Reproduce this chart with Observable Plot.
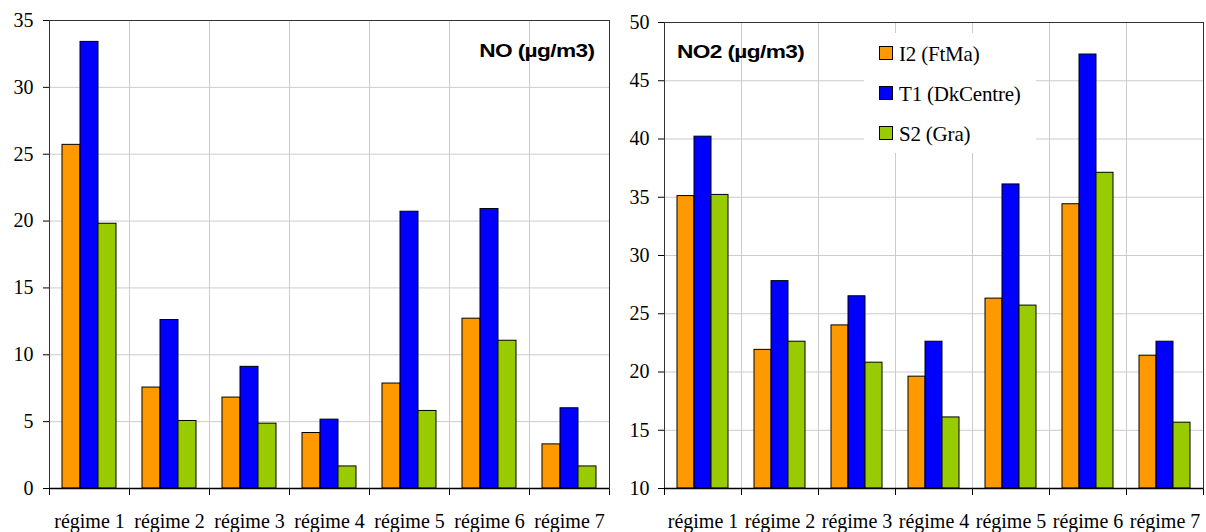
<!DOCTYPE html>
<html>
<head>
<meta charset="utf-8">
<script src="https://cdn.jsdelivr.net/npm/d3@7"></script>
<script src="https://cdn.jsdelivr.net/npm/@observablehq/plot@0.6"></script>
<style>
  body { margin: 0; background: white; }
  #wrap { position: relative; width: 1206px; height: 532px; overflow: hidden; background: white; }
  .chart { position: absolute; top: 0; }
  .chart text { font-family: "Liberation Serif", "Times New Roman", serif; }
  .title { position: absolute; font-family: "Liberation Sans", Arial, sans-serif; font-weight: bold; font-size: 18px; line-height: 18px; letter-spacing: -0.5px; white-space: nowrap; color: #000; }
  #legend { position: absolute; left: 864px; top: 33px; width: 172px; height: 120px; background: white; }
  .item { display: flex; align-items: center; height: 40px; font-family: "Liberation Serif", "Times New Roman", serif; font-size: 21px; }
  .sw { width: 12px; height: 12px; border: 1px solid #000; margin-left: 15px; margin-right: 6px; }
  .item span { padding-top: 3px; letter-spacing: -0.2px; }
</style>
</head>
<body>
<div id="wrap"></div>
<script>
// ---- data ----
const regimes = ["régime 1", "régime 2", "régime 3", "régime 4", "régime 5", "régime 6", "régime 7"];
const seriesNames = ["I2 (FtMa)", "T1 (DkCentre)", "S2 (Gra)"];
const seriesColors = ["#FF9900", "#0000FF", "#99CC00"];

// NO (µg/m3)
const noI2 = [25.7, 7.55, 6.8, 4.15, 7.85, 12.7, 3.3];
const noT1 = [33.4, 12.6, 9.1, 5.15, 20.7, 20.9, 6.0];
const noS2 = [19.8, 5.05, 4.85, 1.65, 5.8, 11.05, 1.65];
const noTicks = [0, 5, 10, 15, 20, 25, 30, 35];

// NO2 (µg/m3)
const no2I2 = [35.1, 21.9, 24.0, 19.6, 26.3, 34.4, 21.4];
const no2T1 = [40.2, 27.8, 26.5, 22.6, 36.1, 47.25, 22.6];
const no2S2 = [35.2, 22.6, 20.8, 16.1, 25.7, 37.1, 15.65];
const no2Ticks = [10, 15, 20, 25, 30, 35, 40, 45, 50];

const titleNO = "NO (µg/m3)";
const titleNO2 = "NO2 (µg/m3)";

const serif = "'Liberation Serif', 'Times New Roman', serif";

function toRows(cols) {
  return regimes.flatMap((r, i) => seriesNames.map((s, j) => ({regime: r, series: s, value: cols[j][i]})));
}

function chart({cols, ticks, width, marginLeft, marginRight, marginTop, tickPadding}) {
  const rows = toRows(cols);
  const y0 = ticks[0];
  return Plot.plot({
    width, height: 532,
    marginLeft, marginRight, marginTop, marginBottom: 44,
    style: {fontFamily: serif, fontSize: "20px", background: "white", color: "black", overflow: "visible"},
    fx: {domain: regimes, padding: 0, label: null},
    x: {domain: seriesNames, paddingInner: 0, paddingOuter: 0.72, axis: null},
    y: {domain: [ticks[0], ticks[ticks.length - 1]], label: null},
    color: {domain: seriesNames, range: seriesColors},
    marks: [
      Plot.gridY(ticks, {stroke: "#cccccc", strokeOpacity: 1}),
      Plot.frame({anchor: "left", insetBottom: -6, stroke: "black"}),
      Plot.frame({anchor: "right", insetBottom: -6, stroke: "black"}),
      Plot.frame({stroke: "#cccccc"}),
      Plot.barY(rows, {fx: "regime", x: "series", y1: y0, y2: "value", fill: "series", stroke: "black", strokeWidth: 1}),
      Plot.frame({facet: "super", stroke: "#333333"}),
      Plot.ruleY([y0], {stroke: "black", strokeWidth: 1.3}),
      Plot.axisY(ticks, {tickSize: 6, tickPadding, fontSize: 20, fontFamily: serif, label: null, stroke: "black"}),
      Plot.axisFx({anchor: "bottom", tickSize: 0, tickPadding: 25, fontSize: 20, fontFamily: serif, label: null})
    ]
  });
}

const wrap = document.getElementById("wrap");

const left = chart({cols: [noI2, noT1, noS2], ticks: noTicks, width: 612, marginLeft: 49, marginRight: 3, marginTop: 20, tickPadding: 10});
left.classList.add("chart");
left.style.left = "0px";
wrap.appendChild(left);

const right = chart({cols: [no2I2, no2T1, no2S2], ticks: no2Ticks, width: 594, marginLeft: 50, marginRight: 2, marginTop: 22, tickPadding: 9});
right.classList.add("chart");
right.style.left = "612px";
wrap.appendChild(right);

// titles
const t1 = document.createElement("div");
t1.className = "title";
t1.textContent = titleNO;
t1.style.right = (1206 - 594) + "px";
t1.style.top = "42px";
t1.style.transformOrigin = "right center";
t1.style.transform = "scaleX(1.26)";
wrap.appendChild(t1);

const t2 = document.createElement("div");
t2.className = "title";
t2.textContent = titleNO2;
t2.style.left = "677px";
t2.style.top = "43px";
t2.style.transformOrigin = "left center";
t2.style.transform = "scaleX(1.26)";
wrap.appendChild(t2);

// legend
const lg = document.createElement("div");
lg.id = "legend";
seriesNames.forEach((s, i) => {
  const it = document.createElement("div");
  it.className = "item";
  const sw = document.createElement("div");
  sw.className = "sw";
  sw.style.background = seriesColors[i];
  const tx = document.createElement("span");
  tx.textContent = s;
  it.appendChild(sw);
  it.appendChild(tx);
  lg.appendChild(it);
});
wrap.appendChild(lg);
</script>
</body>
</html>
